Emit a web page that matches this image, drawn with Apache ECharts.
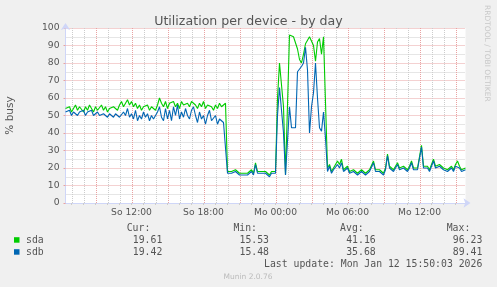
<!DOCTYPE html>
<html><head><meta charset="utf-8">
<script src="https://cdn.jsdelivr.net/npm/echarts@6/dist/echarts.min.js"></script>
<style>html,body{margin:0;padding:0;background:#F0F0F0;}#c{width:497px;height:287px;}</style>
</head><body><div id="c"></div>
<script>
// time axis in hours since Sunday 00:00; samples every 10 minutes from Sun 06:30
const startHour = 6.5;
const stepHours = 1 / 6;
const endHour = 6.5 + 2000 / 60;
const xTickValues = [12, 18, 24, 30, 36];
const xTickLabels = ['So 12:00', 'So 18:00', 'Mo 00:00', 'Mo 06:00', 'Mo 12:00'];
const seriesNames = ['sda', 'sdb'];
const sda = [
54,53,55,52,54,56,53,55,54,52,
55,53,56,54,52,55,53,54,56,53,
55,52,54,53,55,54,53,56,58,55,
57,59,56,58,55,57,54,56,53,55,
54,56,53,55,54,53,56,60,57,55,
58,54,57,56,58,55,57,54,58,56,
55,57,55,58,59,56,54,57,55,58,
54,56,57,55,53,56,54,57,55,56,
57,18,17,18,17,19,18,17,18,17,
18,17,18,19,17,23,18,17,18,17,
18,17,16,18,17,18,60,80,79,55,
16,16,96,96,95,95,88,82,80,85,
91,92,95,96,90,81,92,94,85,95,
94,20,22,18,20,19,24,22,25,19,
19,21,18,17,19,18,17,18,19,18,
17,18,19,18,24,19,18,19,18,17,
20,28,21,20,19,21,23,20,19,21,
20,19,21,24,20,21,20,19,33,21,
20,21,19,20,25,21,20,22,21,20,
21,19,20,21,19,22,24,21,19,18,
20];
const sdb = [
52,51,53,50,52,51,50,52,51,53,
50,52,51,53,50,51,52,50,49,51,
50,49,51,50,49,51,50,49,48,52,
50,54,49,51,48,53,47,50,48,52,
49,51,47,50,48,47,52,55,49,47,
54,48,53,47,55,50,56,48,52,49,
54,50,48,53,55,50,46,52,48,50,
45,50,53,47,46,50,45,48,47,46,
47,17,16,17,16,18,17,16,17,16,
17,16,17,18,16,22,17,16,17,16,
17,16,15,17,16,17,50,66,65,40,
16,15,55,43,44,43,75,74,78,80,
89,76,40,55,63,80,60,43,41,52,
37,18,21,17,19,18,22,20,23,18,
18,20,17,16,18,17,16,17,18,17,
16,17,18,17,23,18,17,18,17,16,
19,27,20,19,18,20,22,19,18,20,
19,18,20,23,19,20,19,18,32,20,
19,20,18,19,24,20,19,21,20,19,
20,18,19,20,18,21,22,20,18,17,
19];
const statHeaders = ['Cur:', 'Min:', 'Avg:', 'Max:'];
const sdaStats = ['19.61', '15.53', '41.16', '96.23'];
const sdbStats = ['19.42', '15.48', '35.68', '89.41'];
const lastUpdate = 'Last update: Mon Jan 12 15:50:03 2026';
const titleText = 'Utilization per device - by day';
const yName = '% busy';
const watermark = 'RRDTOOL / TOBI OETIKER';
const footer = 'Munin 2.0.76';

const colors = ['#00CC00', '#0066B3'];
const minorGrid = '#cccccc';
const majorGrid = '#e9a2a2';
const axisColor = '#CFD6F8';
const fontColor = '#555';
const sans = 'DejaVu Sans';
const mono = 'DejaVu Sans Mono';

const toPairs = arr => arr.map((v, i) => [startHour + i * stepHours, v]);
const hourLines = [];
for (let h = Math.ceil(startHour); h < endHour; h++) hourLines.push(h);
const majorTicks = hourLines.filter(h => h % 3 === 0);
const minorTicks = hourLines.filter(h => h % 3 !== 0);

const chart = echarts.init(document.getElementById('c'), null, {renderer: 'canvas'});

const statRight = [162.3, 269, 375.7, 482.3];
const monoFont = '9.8px "' + mono + '"';
const graphics = [];
statHeaders.forEach((t, k) => graphics.push({type: 'text', x: statRight[k] - 12, y: 228,
  style: {text: t, font: monoFont, fill: fontColor, align: 'right', verticalAlign: 'middle', textAlign: 'right', textVerticalAlign: 'middle'}}));
[sdaStats, sdbStats].forEach((stats, r) => {
  const y = 240 + r * 12;
  graphics.push({type: 'rect', shape: {x: 14, y: y - 2.8, width: 5.5, height: 5.5}, style: {fill: colors[r]}});
  graphics.push({type: 'text', x: 26, y: y, style: {text: seriesNames[r], font: monoFont, fill: fontColor, align: 'left', verticalAlign: 'middle', textAlign: 'left', textVerticalAlign: 'middle'}});
  stats.forEach((s, k) => graphics.push({type: 'text', x: statRight[k], y: y,
    style: {text: s, font: monoFont, fill: fontColor, align: 'right', verticalAlign: 'middle', textAlign: 'right', textVerticalAlign: 'middle'}}));
});
graphics.push({type: 'text', x: 482.3, y: 264, style: {text: lastUpdate, font: monoFont, fill: fontColor, align: 'right', verticalAlign: 'middle', textAlign: 'right', textVerticalAlign: 'middle'}});
graphics.push({type: 'text', x: 248, y: 277, style: {text: footer, font: '7.5px "' + sans + '"', fill: '#bbbbbb', align: 'center', verticalAlign: 'middle', textAlign: 'center', textVerticalAlign: 'middle'}});
graphics.push({type: 'text', x: 487, y: 5, rotation: -Math.PI / 2, style: {text: watermark, font: '7.5px "' + sans + '"', fill: '#c8c8c8', align: 'left', verticalAlign: 'middle', textAlign: 'left', textVerticalAlign: 'middle'}});

// vertical hour grid drawn as a custom series positioned through the x scale
const gridSeries = (hours, color) => ({
  type: 'custom', silent: true, z: 1, clip: true,
  data: hours.map(h => [h]),
  encode: {x: 0},
  renderItem: (params, api) => {
    const top = api.coord([api.value(0), 100]);
    const bottom = api.coord([api.value(0), 0]);
    const x = Math.round(top[0]) + 0.5;
    return {type: 'line', shape: {x1: x, y1: top[1], x2: x, y2: bottom[1]},
      style: {stroke: color, lineWidth: 1, lineDash: [1, 1]}};
  }
});

chart.setOption({
  animation: false,
  backgroundColor: '#F0F0F0',
  title: {text: titleText, left: 'center', top: 10,
    textStyle: {fontFamily: sans, fontSize: 12.6, fontWeight: 'normal', color: fontColor}},
  grid: {left: 65.5, top: 28, width: 400, height: 175, show: true, backgroundColor: '#ffffff', borderWidth: 0,
    containLabel: false, outerBoundsMode: 'none'},
  xAxis: [{
    type: 'value', min: startHour, max: endHour,
    axisLine: {show: true, lineStyle: {color: axisColor, width: 1}, symbol: ['none', 'arrow'], symbolSize: [7, 7], symbolOffset: [0, 5]},
    axisTick: {show: true, customValues: hourLines, length: 2, inside: false, lineStyle: {color: minorGrid}},
    axisLabel: {show: true, customValues: xTickValues, margin: 5,
      formatter: v => { const k = xTickValues.indexOf(Math.round(v)); return k >= 0 ? xTickLabels[k] : ''; },
      fontFamily: sans, fontSize: 9.2, color: fontColor},
    splitLine: {show: false}
  }],
  yAxis: [{
    type: 'value', min: 0, max: 100, interval: 10,
    name: yName, nameLocation: 'middle', nameGap: 50,
    nameTextStyle: {fontFamily: sans, fontSize: 10.5, color: fontColor},
    axisLine: {show: true, lineStyle: {color: axisColor, width: 1}, symbol: ['none', 'arrow'], symbolSize: [7, 7], symbolOffset: [0, 5]},
    axisTick: {show: true, length: 2, lineStyle: {color: majorGrid}},
    axisLabel: {margin: 6, fontFamily: sans, fontSize: 9.2, color: fontColor},
    splitLine: {show: true, lineStyle: {color: majorGrid, type: [1, 1], width: 1}},
    minorTick: {show: false, splitNumber: 2},
    minorSplitLine: {show: true, lineStyle: {color: minorGrid, type: [1, 1], width: 1}}
  }],
  graphic: graphics,
  series: [
    gridSeries(minorTicks, minorGrid),
    gridSeries(majorTicks, majorGrid),
    {type: 'line', name: seriesNames[0], data: toPairs(sda), showSymbol: false, z: 3,
      lineStyle: {color: colors[0], width: 1.1}, itemStyle: {color: colors[0]}},
    {type: 'line', name: seriesNames[1], data: toPairs(sdb), showSymbol: false, z: 4,
      lineStyle: {color: colors[1], width: 1.1}, itemStyle: {color: colors[1]}}
  ]
});
</script></body></html>
